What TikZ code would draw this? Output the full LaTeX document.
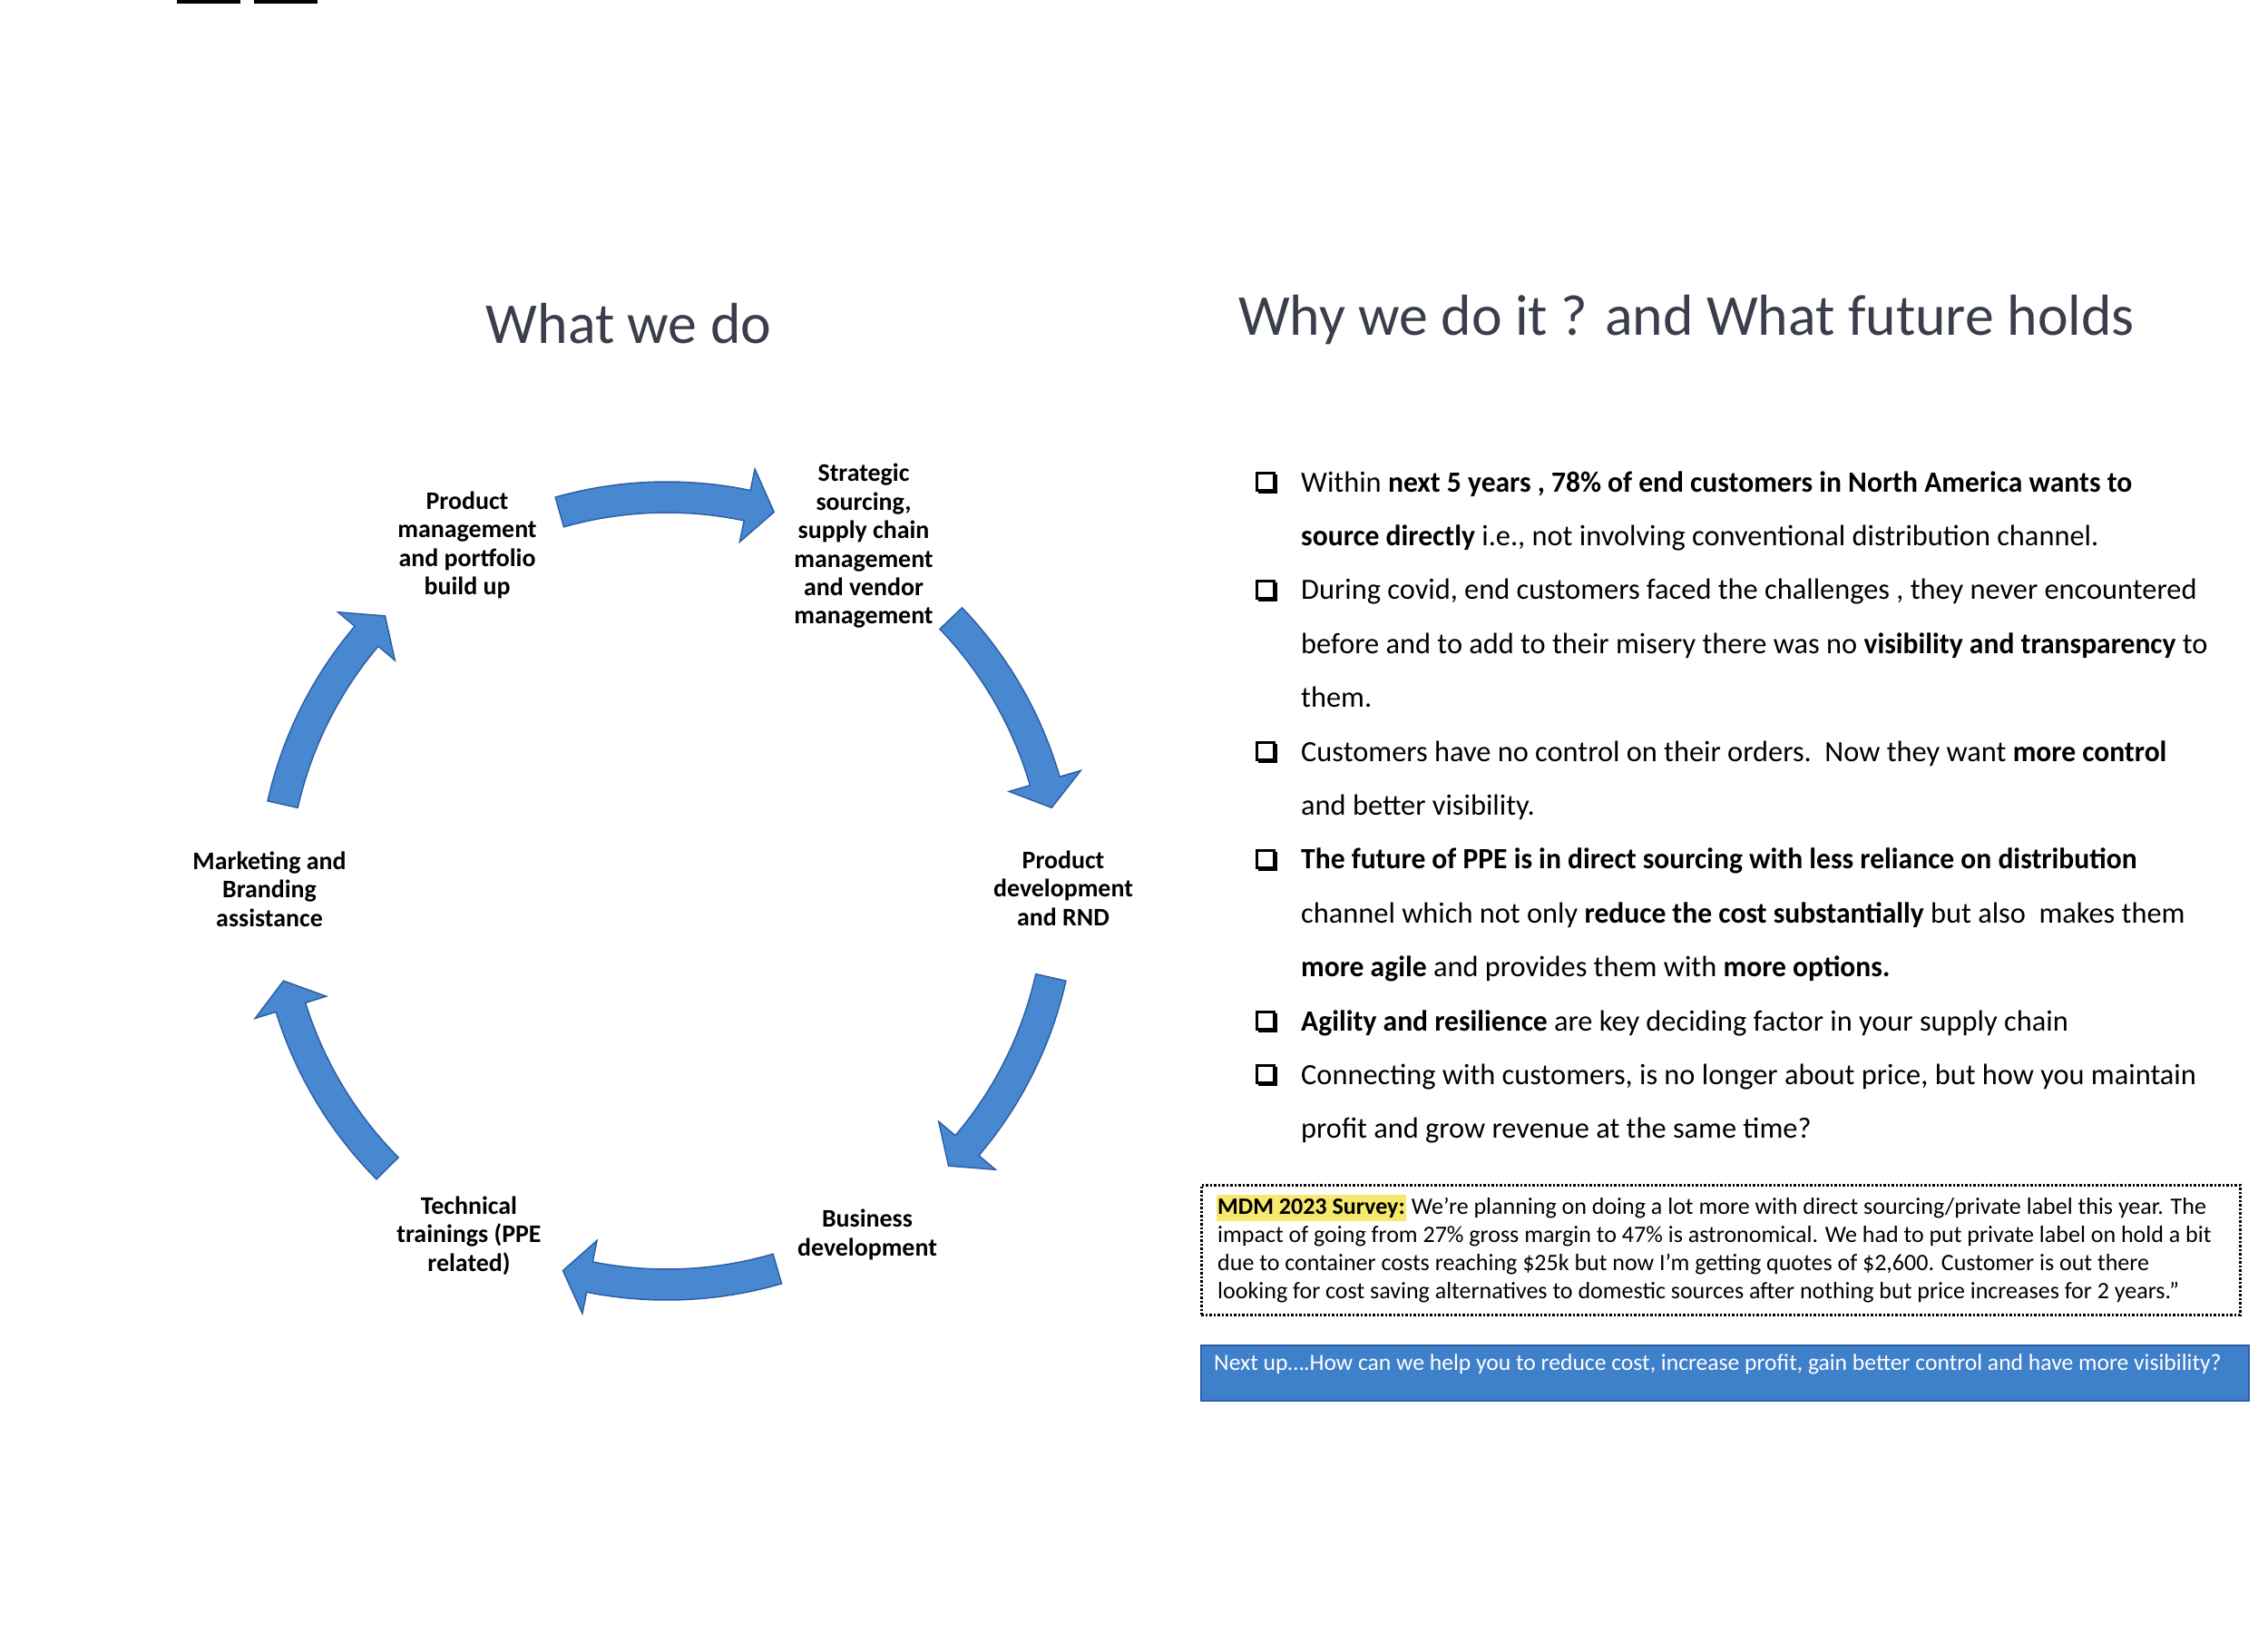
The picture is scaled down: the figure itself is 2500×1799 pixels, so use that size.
\documentclass[tikz,border=0pt]{standalone}
\usepackage{fontspec}
\setmainfont{Carlito}
\newfontfamily\bodyfont{Carlito}[BoldFeatures={FakeStretch=0.975}]
\usetikzlibrary{shadows}
\definecolor{arrowblue}{RGB}{72,136,208}
\definecolor{arrowedge}{RGB}{45,95,165}
\definecolor{titlegray}{RGB}{58,62,76}
\definecolor{barblue}{RGB}{62,128,202}
\definecolor{hiyellow}{RGB}{246,234,110}
\newcommand\cycarrow[1]{%
  \pgfmathsetmacro\aS{#1+15.8}%
  \pgfmathsetmacro\aT{#1-15.8}%
  \pgfmathsetmacro\aH{#1-11.8}%
  \filldraw[cyclearrow] plot[domain=\aS:\aH,samples=24] ({735+451*cos(\x)},{982-451*sin(\x)})
   -- ({735+475*cos(\aH)},{982-475*sin(\aH)})
   -- ({735+434*cos(\aT)},{982-434*sin(\aT)})
   -- ({735+393*cos(\aH)},{982-393*sin(\aH)})
   -- plot[domain=\aH:\aS,samples=24] ({735+417*cos(\x)},{982-417*sin(\x)}) -- cycle;
}
\begin{document}
\begin{tikzpicture}[x=1bp,y=-1bp,
  cyclearrow/.style={fill=arrowblue, draw=arrowedge, line width=1.5bp, line join=miter},
  cyclabel/.style={align=center, inner sep=0pt, font=\bfseries\fontsize{28}{31.5}\selectfont},
  title/.style={inner sep=0pt, text=titlegray, font=\fontsize{64}{70}\selectfont},
  body/.style={anchor=base west, inner sep=0pt, font=\bodyfont\fontsize{32.5}{39}\selectfont},
  checkbox/.style={draw=black, fill=white, line width=2.2bp, minimum size=19bp, inner sep=0pt,
    copy shadow={shadow xshift=2.5bp, shadow yshift=-2.5bp}},
  survey/.style={anchor=base west, inner sep=0pt, font=\fontsize{26.1}{31}\selectfont},
]
\useasboundingbox (0,0) rectangle (2500,1799);
\fill[white] (0,0) rectangle (2500,1799);
% scan marks
\fill[black] (195,0) rectangle (265,4);
\fill[black] (280,0) rectangle (350,4);

% titles
\node[title, anchor=base] (t1) at (693,378) {What we do};
\node[title, anchor=base west] (t2) at (1365,369) {Why we do it ? and What future holds};

% cycle labels
\node[cyclabel] (pm) at (515,601) {Product\\management\\and portfolio\\build up};
\node[cyclabel] (ss) at (952,602) {Strategic\\sourcing,\\supply chain\\management\\and vendor\\management};
\node[cyclabel] (pd) at (1172,979) {Product\\development\\and RND};
\node[cyclabel] (bd) at (956,1361) {Business\\development};
\node[cyclabel] (tt) at (517,1362) {Technical\\trainings (PPE\\related)};
\node[cyclabel] (mk) at (297,980) {Marketing and\\Branding\\assistance};

% cycle arrows
\cycarrow{90}
\cycarrow{28}
\cycarrow{-28.5}
\cycarrow{-89.5}
\cycarrow{-151}
\cycarrow{151.5}

% bullets
\node[checkbox] (c1) at (1395,531) {};
\node[checkbox] (c2) at (1395,650) {};
\node[checkbox] (c3) at (1395,828) {};
\node[checkbox] (c4) at (1395,947) {};
\node[checkbox] (c5) at (1395,1125) {};
\node[checkbox] (c6) at (1395,1184) {};

\node[body] (l1) at (1434,542) {Within \textbf{next 5 years , 78\% of end customers in North America wants to}};
\node[body] (l2) at (1434,601.4) {\textbf{source directly} i.e., not involving conventional distribution channel.};
\node[body] (l3) at (1434,660.8) {During covid, end customers faced the challenges , they never encountered};
\node[body] (l4) at (1434,720.2) {before and to add to their misery there was no \textbf{visibility and transparency} to};
\node[body] (l5) at (1434,779.6) {them.};
\node[body] (l6) at (1434,839) {Customers have no control on their orders.\ \ Now they want \textbf{more control}};
\node[body] (l7) at (1434,898.4) {and better visibility.};
\node[body] (l8) at (1434,957.8) {\textbf{The future of PPE is in direct sourcing with less reliance on distribution}};
\node[body] (l9) at (1434,1017.2) {channel which not only \textbf{reduce the cost substantially} but also\ \ makes them};
\node[body] (l10) at (1434,1076.6) {\textbf{more agile} and provides them with \textbf{more options.}};
\node[body] (l11) at (1434,1136) {\textbf{Agility and resilience} are key deciding factor in your supply chain};
\node[body] (l12) at (1434,1195.4) {Connecting with customers, is no longer about price, but how you maintain};
\node[body] (l13) at (1434,1254.8) {profit and grow revenue at the same time?};

% survey box
\node[draw=black, line width=2.5bp, dash pattern=on 2.5bp off 2bp, minimum width=1145bp, minimum height=143bp, anchor=north west, inner sep=0pt] (box) at (1323,1305) {};
\node[survey, fill=hiyellow, inner xsep=1bp, inner ysep=4bp, anchor=base west] (mdm) at (1341,1338) {\textbf{MDM 2023 Survey:}};
\node[survey] (s1) at (mdm.base east) {\ We’re planning on doing a lot more with direct sourcing/private label this year. The};
\node[survey] (s2) at (1342,1369) {impact of going from 27\% gross margin to 47\% is astronomical. We had to put private label on hold a bit};
\node[survey] (s3) at (1342,1400) {due to container costs reaching \$25k but now I’m getting quotes of \$2,600. Customer is out there};
\node[survey] (s4) at (1342,1431) {looking for cost saving alternatives to domestic sources after nothing but price increases for 2 years.”};

% next up bar
\node[fill=barblue, draw=arrowedge, line width=1.5bp, minimum width=1155bp, minimum height=61bp, anchor=north west, inner sep=0pt] (bar) at (1323,1482) {};
\node[anchor=base west, inner sep=0pt, text=white, font=\fontsize{25.7}{30}\selectfont] (next) at (1338,1510) {Next up….How can we help you to reduce cost, increase profit, gain better control and have more visibility?};
\end{tikzpicture}
\end{document}
